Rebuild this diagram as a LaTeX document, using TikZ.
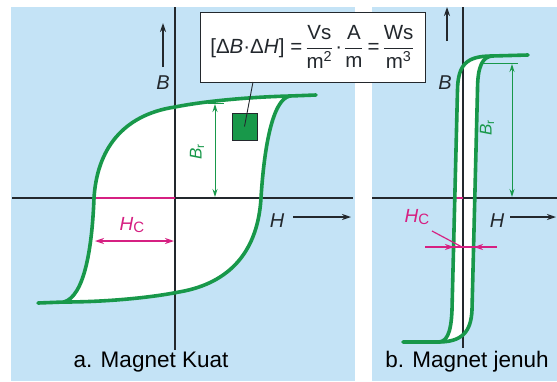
\documentclass[tikz,border=0pt]{standalone}
\usepackage{amsmath}
\usepackage{fontspec}
\setmainfont{Liberation Sans}
\usetikzlibrary{arrows.meta}
\definecolor{bgblue}{RGB}{196,227,246}
\definecolor{lgreen}{RGB}{24,152,74}
\definecolor{pinkm}{RGB}{214,32,130}
\definecolor{axisc}{RGB}{35,40,45}
\tikzset{
  axisline/.style={draw=axisc, line width=1.3pt},
  loopline/.style={draw=lgreen, line width=3.6pt, line cap=round, line join=round},
  brline/.style={draw=lgreen, line width=1pt},
  pinkline/.style={draw=pinkm, line width=1.2pt},
  dirarrow/.style={draw=axisc, line width=1.3pt, -{Stealth[length=9pt,width=6pt]}},
  brarrow/.style={brline, {Stealth[length=8pt,width=5pt]}-{Stealth[length=8pt,width=5pt]}},
  pinkarrow/.style={pinkline, -{Stealth[length=9pt,width=6pt]}},
  axislabel/.style={font=\fontsize{20}{22}\selectfont\itshape, text=axisc, inner sep=0pt},
  caption/.style={font=\fontsize{22.5}{24}\selectfont, text=black, inner sep=0pt},
}
\newcommand{\unitfrac}[2]{\ensuremath{\dfrac{\mbox{#1}}{\mbox{#2}}}}
\begin{document}
\begin{tikzpicture}[x=1pt,y=-1pt]
\useasboundingbox (0,0) rectangle (557,381);
\fill[white] (0,0) rectangle (557,381);
% panels
\fill[bgblue] (11,7) rectangle (355,381);
\fill[bgblue] (372,7) rectangle (557,381);

% ===== left panel =====
\coordinate (LR) at (290,96);
\coordinate (LL) at (64,302);
\coordinate (LRt) at (316,95);
\coordinate (LLt) at (38,303);
\fill[white] (LR) .. controls (250,97) and (205,101) .. (175,107)
   .. controls (122,115) and (97,150) .. (94,198)
   .. controls (92,250) and (84,296) .. (LL)
   .. controls (104,302) and (149,298) .. (179,292)
   .. controls (232,283) and (258,249) .. (261,198)
   .. controls (264,150) and (272,99) .. (LR) -- cycle;
% axes
\coordinate (LAt) at (175,7);
\coordinate (LAb) at (175,350);
\coordinate (LHl) at (12,198);
\coordinate (LHr) at (353,198);
\draw[axisline] (LAt) -- (LAb);
\draw[axisline] (LHl) -- (LHr);
% Hc on axis
\coordinate (LHc1) at (94,198);
\coordinate (LHc0) at (175,198);
\draw[pinkm, line width=2pt] (LHc1) -- (LHc0);
% loop
\draw[loopline] (LRt) -- (LR) .. controls (250,97) and (205,101) .. (175,107)
   .. controls (122,115) and (97,150) .. (94,198)
   .. controls (92,250) and (84,296) .. (LL) -- (LLt);
\draw[loopline] (LL) .. controls (104,302) and (149,298) .. (179,292)
   .. controls (232,283) and (258,249) .. (261,198)
   .. controls (264,150) and (272,99) .. (LR);
% Br arrow
\coordinate (LBrT) at (215,104);
\coordinate (LBrB) at (215,197);
\coordinate (LBrTl) at (208,103);
\coordinate (LBrTr) at (224,103);
\draw[brline] (LBrTl) -- (LBrTr);
\draw[brarrow] (LBrT) -- (LBrB);
\node[rotate=90, text=lgreen, font=\fontsize{17}{18}\selectfont, inner sep=0pt] (LBr) at (197,152) {\textit{B}\textsubscript{r}};
% Hc arrow
\coordinate (LHa1) at (95,241);
\coordinate (LHa2) at (174,241);
\coordinate (LHam) at (134.5,241);
\draw[pinkarrow] (LHam) -- (LHa1);
\draw[pinkarrow] (LHam) -- (LHa2);
\node[text=pinkm, font=\fontsize{19}{21}\selectfont, inner sep=0pt] (LHc) at (132,225) {\textit{H}\raisebox{-2pt}{\fontsize{15}{16}\selectfont C}};
% B and H arrows
\coordinate (LBa1) at (163,67);
\coordinate (LBa2) at (163,23);
\draw[dirarrow] (LBa1) -- (LBa2);
\node[axislabel] (LB) at (163,83) {B};
\coordinate (LHx1) at (293,217);
\coordinate (LHx2) at (351,217);
\draw[dirarrow] (LHx1) -- (LHx2);
\node[axislabel] (LH) at (277,221) {H};
% box and square
\node[draw=axisc, line width=0.9pt, fill=white, minimum width=225pt, minimum height=70pt, inner sep=0pt,
      font=\fontsize{20.5}{22}\selectfont, text=axisc] (box) at (312.5,47)
  {[Δ\textit{B}·Δ\textit{H}]\hspace{6pt}=\hspace{3pt}\unitfrac{Vs}{m\textsuperscript{2}}\hspace{2pt}·\hspace{2pt}\unitfrac{A}{m}\hspace{4pt}=\hspace{3pt}\unitfrac{Ws}{m\textsuperscript{3}}};
\node[draw=axisc, line width=0.8pt, fill=lgreen, minimum width=25pt, minimum height=27pt, inner sep=0pt] (sq) at (244.5,126.5) {};
\coordinate (boxfoot) at (253,82);
\draw[axisc, line width=0.9pt] (sq.center) -- (boxfoot);

% ===== right panel =====
\coordinate (RT) at (492,56);
\coordinate (RB) at (438,342);
\coordinate (RTt) at (528,55);
\coordinate (RBt) at (403,342);
\fill[white] (RT) .. controls (466,56) and (458,65) .. (457.5,90) -- (452,310)
   .. controls (451,335) and (446,342) .. (RB)
   .. controls (462,342) and (471,332) .. (472,310) -- (477.5,90)
   .. controls (477.5,65) and (483,57) .. (RT) -- cycle;
\coordinate (RAt) at (463,7);
\coordinate (RAb) at (463,348);
\coordinate (RHl) at (372,198);
\coordinate (RHr) at (557,198);
\draw[axisline] (RAt) -- (RAb);
\draw[axisline] (RHl) -- (RHr);
\coordinate (RHc1) at (455,198);
\coordinate (RHc0) at (463,198);
\draw[pinkm, line width=2pt] (RHc1) -- (RHc0);
\draw[loopline] (RTt) -- (RT) .. controls (466,56) and (458,65) .. (457.5,90) -- (452,310)
   .. controls (451,335) and (446,342) .. (RB) -- (RBt);
\draw[loopline] (RB) .. controls (462,342) and (471,332) .. (472,310) -- (477.5,90)
   .. controls (477.5,65) and (483,57) .. (RT);
% Br
\coordinate (RBrT) at (512,64);
\coordinate (RBrB) at (512,197);
\coordinate (RBrTl) at (481,63);
\coordinate (RBrTr) at (518,63);
\draw[brline] (RBrTl) -- (RBrTr);
\draw[brarrow] (RBrT) -- (RBrB);
\node[rotate=90, text=lgreen, font=\fontsize{17}{18}\selectfont, inner sep=0pt] (RBr) at (487,128) {\textit{B}\textsubscript{r}};
% Hc
\coordinate (RHa1) at (425,247);
\coordinate (RHa2) at (497,247);
\coordinate (RHt1) at (454,247);
\coordinate (RHt2) at (474,247);
\draw[pinkline] (RHa1) -- (RHa2);
\draw[pinkarrow] (RHa1) -- (RHt1);
\draw[pinkarrow] (RHa2) -- (RHt2);
\node[text=pinkm, font=\fontsize{19}{21}\selectfont, inner sep=0pt] (RHc) at (417,217) {\textit{H}\raisebox{-2pt}{\fontsize{15}{16}\selectfont C}};
\coordinate (RHp1) at (432,231);
\coordinate (RHp2) at (462,247);
\draw[pinkline] (RHp1) -- (RHp2);
% B and H arrows
\coordinate (RBa1) at (447,41);
\coordinate (RBa2) at (447,7);
\draw[dirarrow] (RBa1) -- (RBa2);
\node[axislabel] (RB2) at (445,83) {B};
\coordinate (RHx1) at (510,217);
\coordinate (RHx2) at (556,217);
\draw[dirarrow] (RHx1) -- (RHx2);
\node[axislabel] (RH) at (497,221) {H};

% captions
\node[caption] (capa) at (151,362) {a. Magnet Kuat};
\node[caption] (capb) at (467,362) {b. Magnet jenuh};
\end{tikzpicture}
\end{document}
